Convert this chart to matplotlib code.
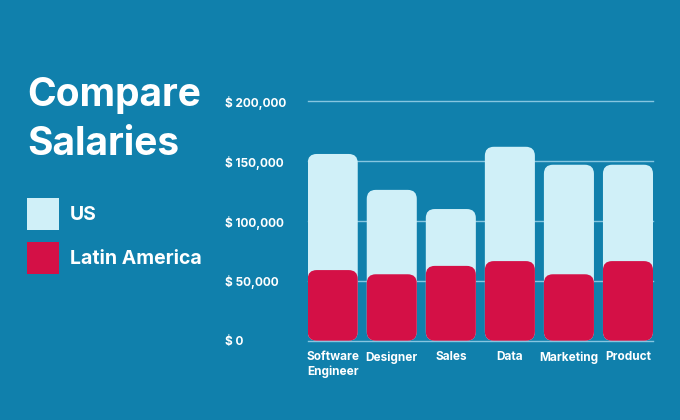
import matplotlib
matplotlib.use("Agg")
import matplotlib.pyplot as plt
from matplotlib.patches import FancyBboxPatch, Rectangle

# data
jobs = ["Software\nEngineer", "Designer", "Sales", "Data", "Marketing", "Product"]
us_salary = [156000, 126000, 110000, 162000, 147000, 147000]
latam_salary = [59000, 55500, 62500, 66500, 55500, 66500]
y_ticks = [0, 50000, 100000, 150000, 200000]
y_labels = ["$ 0", "$ 50,000", "$ 100,000", "$ 150,000", "$ 200,000"]

BG = "#1080ac"
US_COLOR = "#d0f0f8"
LATAM_COLOR = "#d41046"
GRID = "#86c6e0"
FONT = "Inter"

plt.rcParams["font.family"] = [FONT, "DejaVu Sans"]

fig = plt.figure(figsize=(6.8, 4.2), dpi=100)
fig.patch.set_facecolor(BG)
ax = fig.add_axes([307.7 / 680, 1 - 340.7 / 420, (653 - 307.7) / 680, (340.7 - 101.3) / 420])
ax.set_facecolor("none")

bar_w = 50 / 59
ax.set_xlim(-bar_w / 2, len(jobs) - 1 + bar_w / 2)
ax.set_ylim(0, 200000)

# rounded bars: radius in x units, aspect maps it onto y units
px_x = 1 / 59
px_y = 200000 / (340.7 - 101.3)
radius = 9 * px_x
aspect = px_y / px_x


def rounded_bar(x, h, color):
    box = FancyBboxPatch((x - bar_w / 2, 0), bar_w, h,
                         boxstyle="round,pad=0,rounding_size=%f" % radius,
                         mutation_aspect=aspect, facecolor=color,
                         edgecolor="none", zorder=3)
    ax.add_patch(box)


for i in range(len(jobs)):
    rounded_bar(i, us_salary[i], US_COLOR)
    rounded_bar(i, latam_salary[i], LATAM_COLOR)

for t in y_ticks:
    ax.axhline(t, color=GRID, lw=1, zorder=1, clip_on=False)

for s in ax.spines.values():
    s.set_visible(False)

ax.set_yticks(y_ticks)
ax.set_yticklabels(y_labels, ha="left", color="white", fontsize=8.5, fontweight="bold")
ax.tick_params(axis="y", length=0, pad=59.5)
ax.set_xticks(range(len(jobs)))
ax.set_xticklabels(jobs, color="white", fontsize=8.5, fontweight="bold", linespacing=1.3)
ax.tick_params(axis="x", length=0, pad=7.5)

# title and legend on the left
fig.text(27 / 680, 1 - 77 / 420, "Compare\nSalaries", color="white", fontsize=28,
         fontweight="bold", va="top", ha="left", linespacing=1.42)

fig.add_artist(Rectangle((27.3 / 680, 1 - 229.7 / 420), 32 / 680, 32 / 420,
                         transform=fig.transFigure, facecolor=US_COLOR, edgecolor="none"))
fig.add_artist(Rectangle((27.3 / 680, 1 - 274.3 / 420), 32 / 680, 32 / 420,
                         transform=fig.transFigure, facecolor=LATAM_COLOR, edgecolor="none"))
fig.text(70 / 680, 1 - 215 / 420, "US", color="white", fontsize=14,
         fontweight="bold", va="center", ha="left")
fig.text(70 / 680, 1 - 259 / 420, "Latin America", color="white", fontsize=14,
         fontweight="bold", va="center", ha="left")

fig.savefig("out.png", dpi=100, facecolor=BG)
